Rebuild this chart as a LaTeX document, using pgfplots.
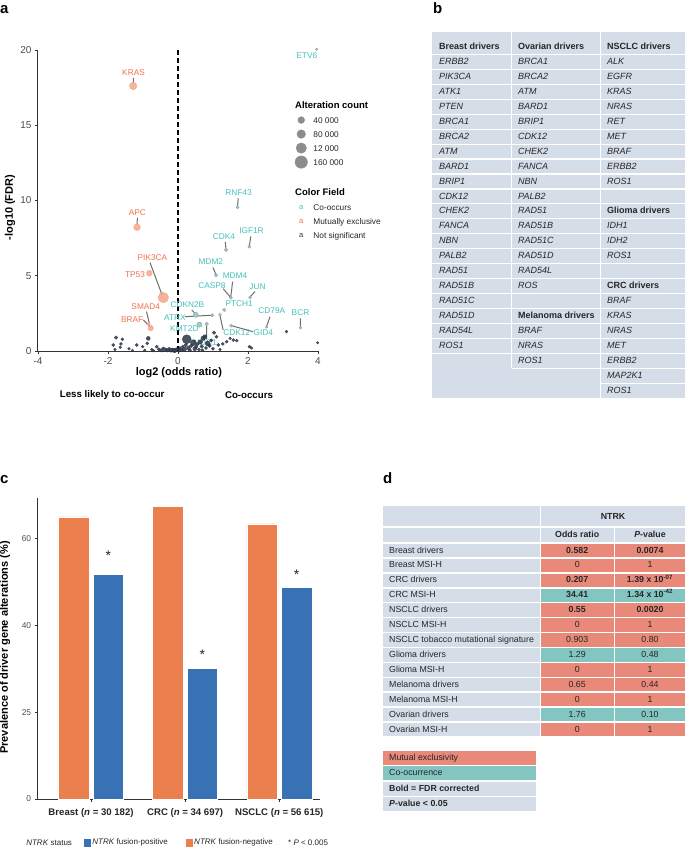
\documentclass[border=0pt]{standalone}
\usepackage{pgfplots}
\pgfplotsset{compat=1.18}
\usepackage{fontspec}
\setmainfont{Liberation Sans}
\newcommand{\setfs}[1]{\fontsize{#1}{#1}\selectfont}
\definecolor{tealtxt}{HTML}{45BFBA}
\definecolor{orgtxt}{HTML}{F26E4C}
\definecolor{orgpt}{HTML}{F5A68A}
\definecolor{tealpt}{HTML}{8ED4CF}
\definecolor{darkpt}{HTML}{2B3446}
\definecolor{tblbg}{HTML}{D5DEE8}
\definecolor{salmon}{HTML}{E8897A}
\definecolor{tealc}{HTML}{82C5C1}
\definecolor{barorg}{HTML}{EB7F4E}
\definecolor{barblue}{HTML}{3872B5}
\definecolor{axgray}{HTML}{333333}
\definecolor{tickgray}{HTML}{4D4D4D}
\definecolor{linegray}{HTML}{6E6E6E}
\definecolor{legcirc}{HTML}{8A8C8E}
\definecolor{tbltxt}{HTML}{262626}

\newcommand{\drow}[5]{%
  \pgfmathsetmacro{\cy}{550.35+14.94*#1}%
  \fill[tblbg] (383,\cy-6.65) rectangle (539.5,\cy+6.65);
  \fill[#5] (541,\cy-6.65) rectangle (613.5,\cy+6.65);
  \fill[#5] (615,\cy-6.65) rectangle (685,\cy+6.65);
  \node[anchor=mid west, inner sep=0pt, font=\setfs{8.8}, text=tbltxt] at (389,\cy) {#2};
  \node[anchor=mid, inner sep=0pt, font=\setfs{8.8}, text=tbltxt] at (577.2,\cy) {#3};
  \node[anchor=mid, inner sep=0pt, font=\setfs{8.8}, text=tbltxt] at (650,\cy) {#4};
}

\begin{document}
\begin{tikzpicture}
\useasboundingbox (0pt,0pt) rectangle (685pt,-847pt);

% ================= panel letters and tables =================
\begin{scope}[x=1pt,y=-1pt]
\node[anchor=base west, inner sep=0pt, font=\bfseries\setfs{15}] at (0,13) {a};
\node[anchor=base west, inner sep=0pt, font=\bfseries\setfs{15}] at (433,13) {b};
\node[anchor=base west, inner sep=0pt, font=\bfseries\setfs{15}] at (0,483) {c};
\node[anchor=base west, inner sep=0pt, font=\bfseries\setfs{15}] at (383,483) {d};

% ---------- panel b ----------
\fill[tblbg] (432,32) rectangle (685,398);
\foreach \k in {1,...,21} \draw[white,line width=1.2pt] (432,{54.47+14.94*(\k-1)}) -- (511.5,{54.47+14.94*(\k-1)});
\foreach \k in {1,...,22} \draw[white,line width=1.2pt] (511.5,{54.47+14.94*(\k-1)}) -- (600.8,{54.47+14.94*(\k-1)});
\foreach \k in {1,...,23} \draw[white,line width=1.2pt] (600.8,{54.47+14.94*(\k-1)}) -- (685,{54.47+14.94*(\k-1)});
\draw[white,line width=1.2pt] (511.5,32) -- (511.5,368.2);
\draw[white,line width=1.2pt] (600.8,32) -- (600.8,398);
\tikzset{hdr/.style={anchor=mid west, inner sep=0pt, font=\bfseries\setfs{9}, text=tbltxt},
         gene/.style={anchor=mid west, inner sep=0pt, font=\itshape\setfs{9}, text=tbltxt}}
\node[hdr] at (439,47) {Breast drivers};
\node[hdr] at (518,47) {Ovarian drivers};
\node[hdr] at (607,47) {NSCLC drivers};
\node[hdr] at (518,{47+14.94*18}) {Melanoma drivers};
\node[hdr] at (607,{47+14.94*11}) {Glioma drivers};
\node[hdr] at (607,{47+14.94*16}) {CRC drivers};
\foreach \g [count=\i from 2] in {ERBB2,PIK3CA,ATK1,PTEN,BRCA1,BRCA2,ATM,BARD1,BRIP1,CDK12,CHEK2,FANCA,NBN,PALB2,RAD51,RAD51B,RAD51C,RAD51D,RAD54L,ROS1}
  \node[gene] at (439,{47+14.94*(\i-1)}) {\g};
\foreach \g [count=\i from 2] in {BRCA1,BRCA2,ATM,BARD1,BRIP1,CDK12,CHEK2,FANCA,NBN,PALB2,RAD51,RAD51B,RAD51C,RAD51D,RAD54L,ROS}
  \node[gene] at (518,{47+14.94*(\i-1)}) {\g};
\foreach \g [count=\i from 20] in {BRAF,NRAS,ROS1}
  \node[gene] at (518,{47+14.94*(\i-1)}) {\g};
\foreach \g [count=\i from 2] in {ALK,EGFR,KRAS,NRAS,RET,MET,BRAF,ERBB2,ROS1}
  \node[gene] at (607,{47+14.94*(\i-1)}) {\g};
\foreach \g [count=\i from 13] in {IDH1,IDH2,ROS1}
  \node[gene] at (607,{47+14.94*(\i-1)}) {\g};
\foreach \g [count=\i from 18] in {BRAF,KRAS,NRAS,MET,ERBB2,MAP2K1,ROS1}
  \node[gene] at (607,{47+14.94*(\i-1)}) {\g};

% ---------- panel d ----------
\fill[tblbg] (383,506) rectangle (539.5,526.3);
\fill[tblbg] (541,506) rectangle (685,526.3);
\fill[tblbg] (383,527.8) rectangle (539.5,542.2);
\fill[tblbg] (541,527.8) rectangle (613.5,542.2);
\fill[tblbg] (615,527.8) rectangle (685,542.2);
\node[anchor=mid, inner sep=0pt, font=\bfseries\setfs{8.8}, text=tbltxt] at (613,517) {NTRK};
\node[anchor=mid, inner sep=0pt, font=\bfseries\setfs{8.8}, text=tbltxt] at (577.2,535) {Odds ratio};
\node[anchor=mid, inner sep=0pt, font=\bfseries\setfs{8.8}, text=tbltxt] at (650,535) {\textit{P}-value};
\drow{0}{Breast drivers}{\textbf{0.582}}{\textbf{0.0074}}{salmon}
\drow{1}{Breast MSI-H}{0}{1}{salmon}
\drow{2}{CRC drivers}{\textbf{0.207}}{\textbf{1.39 x 10\textsuperscript{-07}}}{salmon}
\drow{3}{CRC MSI-H}{\textbf{34.41}}{\textbf{1.34 x 10\textsuperscript{-42}}}{tealc}
\drow{4}{NSCLC drivers}{\textbf{0.55}}{\textbf{0.0020}}{salmon}
\drow{5}{NSCLC MSI-H}{0}{1}{salmon}
\drow{6}{NSCLC tobacco mutational signature}{0.903}{0.80}{salmon}
\drow{7}{Glioma drivers}{1.29}{0.48}{tealc}
\drow{8}{Glioma MSI-H}{0}{1}{salmon}
\drow{9}{Melanoma drivers}{0.65}{0.44}{salmon}
\drow{10}{Melanoma MSI-H}{0}{1}{salmon}
\drow{11}{Ovarian drivers}{1.76}{0.10}{tealc}
\drow{12}{Ovarian MSI-H}{0}{1}{salmon}
\fill[salmon] (383,750.5) rectangle (536,764.5);
\fill[tealc] (383,766) rectangle (536,780);
\fill[tblbg] (383,781.5) rectangle (536,795.5);
\fill[tblbg] (383,797) rectangle (536,811);
\node[anchor=mid west, inner sep=0pt, font=\setfs{8.8}, text=tbltxt] at (389,757.5) {Mutual exclusivity};
\node[anchor=mid west, inner sep=0pt, font=\setfs{8.8}, text=tbltxt] at (389,773) {Co-ocurrence};
\node[anchor=mid west, inner sep=0pt, font=\bfseries\setfs{8.8}, text=tbltxt] at (389,788.5) {Bold = FDR corrected};
\node[anchor=mid west, inner sep=0pt, font=\bfseries\setfs{8.8}, text=tbltxt] at (389,804) {\textit{P}-value < 0.05};
\end{scope}

% ================= panel a =================
\begin{axis}[
  at={(38pt,-351pt)}, anchor=south west,
  scale only axis, width=280pt, height=301pt,
  xmin=-4, xmax=4, ymin=0, ymax=20,
  axis lines*=left, axis line style={axgray, line width=1pt},
  xtick={-4,-2,0,2,4}, ytick={0,5,10,15,20},
  tick align=outside, major tick length=3pt, tick style={axgray, line width=0.8pt},
  ticklabel style={font=\setfs{10}, text=tickgray},
  /pgf/number format/assume math mode=true,
  xlabel={log2 (odds ratio)}, ylabel={-log10 (FDR)},
  xlabel style={font=\bfseries\setfs{11}, at={(axis description cs:0.503,-0.073)}, anchor=center},
  ylabel style={font=\bfseries\setfs{11}, at={(axis description cs:-0.1,0.477)}, anchor=center},
  clip=false,
  legend cell align=left,
  legend style={at={(axis description cs:0.918,0.837)}, anchor=north west, draw=none, fill=none,
    inner sep=0pt, outer sep=0pt, row sep=0pt, font=\setfs{8.3}, text=tbltxt,
    nodes={inner sep=0pt, text height=10pt, text depth=4pt}},
]
\addlegendimage{legend image code/.code={\node[overlay,anchor=mid west,inner sep=0pt,font=\bfseries\setfs{9.5},text=black] at (0pt,0pt) {Alteration count}; \path (0pt,0pt) (18pt,0pt);}}
\addlegendentry{}
\addlegendimage{legend image code/.code={\fill[legcirc,overlay] (6pt,0pt) circle (3.4pt); \path (0pt,0pt) (18pt,0pt);}}
\addlegendentry{40 000}
\addlegendimage{legend image code/.code={\fill[legcirc,overlay] (6pt,0pt) circle (4.3pt); \path (0pt,0pt) (18pt,0pt);}}
\addlegendentry{80 000}
\addlegendimage{legend image code/.code={\fill[legcirc,overlay] (6pt,0pt) circle (5.2pt); \path (0pt,0pt) (18pt,0pt);}}
\addlegendentry{12 000}
\addlegendimage{legend image code/.code={\fill[legcirc,overlay] (6pt,0pt) circle (6.2pt); \path (0pt,0pt) (18pt,0pt);}}
\addlegendentry{160 000}
\addlegendimage{legend image code/.code={\path (0pt,0pt) (18pt,0pt);}}
\addlegendentry[text height=13pt]{}
\addlegendimage{legend image code/.code={\node[overlay,anchor=mid west,inner sep=0pt,font=\bfseries\setfs{9.5},text=black] at (0pt,0pt) {Color Field}; \path (0pt,0pt) (18pt,0pt);}}
\addlegendentry{}
\addlegendimage{legend image code/.code={\node[overlay,anchor=mid,inner sep=0pt,font=\setfs{7.5},text=tealtxt] at (6pt,0pt) {a}; \path (0pt,0pt) (18pt,0pt);}}
\addlegendentry{Co-occurs}
\addlegendimage{legend image code/.code={\node[overlay,anchor=mid,inner sep=0pt,font=\setfs{7.5},text=orgtxt] at (6pt,0pt) {a}; \path (0pt,0pt) (18pt,0pt);}}
\addlegendentry{Mutually exclusive}
\addlegendimage{legend image code/.code={\node[overlay,anchor=mid,inner sep=0pt,font=\setfs{7.5},text=darkpt] at (6pt,0pt) {a}; \path (0pt,0pt) (18pt,0pt);}}
\addlegendentry{Not significant}

% dashed zero line
\addplot[black, line width=1.2pt, dash pattern=on 5pt off 3pt, forget plot] coordinates {(0,0) (0,20)};

% connector lines
\addplot[linegray, line width=1pt, unbounded coords=jump, forget plot] coordinates {
(-1.27,18.15) (-1.28,17.8) (nan,nan)
(-1.16,8.85) (-1.17,8.4) (nan,nan)
(-0.80,5.88) (-0.45,3.7) (nan,nan)
(-0.90,2.62) (-0.82,1.85) (nan,nan)
(-0.99,2.06) (-0.78,1.57) (nan,nan)
(1.72,10.15) (1.70,9.6) (nan,nan)
(2.08,7.62) (2.04,7.0) (nan,nan)
(1.35,7.25) (1.37,6.8) (nan,nan)
(1.00,5.55) (1.08,5.1) (nan,nan)
(1.56,4.61) (1.51,3.62) (nan,nan)
(1.29,4.14) (1.49,3.6) (nan,nan)
(2.20,3.95) (2.06,3.6) (nan,nan)
(0.39,2.73) (0.51,2.45) (nan,nan)
(0.20,2.28) (0.98,2.38) (nan,nan)
(0.82,1.75) (0.82,0.75) (nan,nan)
(1.29,1.40) (1.20,2.35) (nan,nan)
(2.15,1.28) (1.53,1.68) (nan,nan)
(2.63,2.28) (2.53,1.62) (nan,nan)
(3.50,2.17) (3.50,1.58)
};

% gene labels
\foreach \gx/\gy/\gt in {-1.27/18.52/KRAS,-1.16/9.2/APC,-0.73/6.21/PIK3CA,-1.23/5.1/TP53,-0.92/2.95/SMAD4,-1.31/2.06/BRAF}
  {\edef\temp{\noexpand\node[anchor=center,inner sep=0pt,font=\noexpand\setfs{8.3},text=orgtxt] at (axis cs:\gx,\gy) {\gt};}\temp}
\foreach \gx/\gy/\gt in {3.68/19.63/ETV6,1.73/10.49/RNF43,2.1/7.98/IGF1R,1.31/7.6/CDK4,0.94/5.92/MDM2,1.63/4.99/MDM4,0.97/4.35/CASP8,2.27/4.28/JUN,1.75/3.13/PTCH1,0.27/3.08/CDKN2B,-0.09/2.24/ATRX,0.18/1.46/KMT2D,1.68/1.24/CDK12,2.44/1.24/GID4,2.68/2.66/CD79A,3.5/2.55/BCR,0.77/0.55/MDC1}
  {\edef\temp{\noexpand\node[anchor=center,inner sep=0pt,font=\noexpand\setfs{8.3},text=tealtxt] at (axis cs:\gx,\gy) {\gt};}\temp}

% not significant points
\addplot[scatter, only marks, mark=*, opacity=0.85, forget plot,
  scatter/use mapped color={draw=darkpt, fill=darkpt},
  visualization depends on={\thisrow{r}\as\rad},
  scatter/@pre marker code/.append style={/tikz/mark size=\rad}]
  table[x=x,y=y] {
x y r
-1.85 0.40 1.6
-1.77 0.89 1.8
-1.63 0.47 1.5
-1.59 0.78 1.5
-1.80 0.10 1.3
-1.40 0.15 1.3
-1.18 0.40 1.6
-1.01 0.29 1.4
-0.88 0.51 1.5
-0.85 0.84 2.0
-0.95 0.05 1.3
-0.75 0.10 1.4
-0.61 0.29 1.5
-0.55 0.12 1.6
-0.48 0.05 1.8
-0.42 0.18 1.5
-0.36 0.08 2.0
-0.30 0.04 1.8
-0.25 0.15 1.6
-0.20 0.05 2.0
-0.15 0.10 1.7
-0.10 0.03 2.2
-0.05 0.12 1.6
0.02 0.05 2.0
0.06 0.20 1.6
0.10 0.08 1.8
0.14 0.30 1.5
0.18 0.12 2.2
0.22 0.40 1.8
0.25 0.78 4.5
0.30 0.20 2.0
0.34 0.05 1.7
0.38 0.35 1.9
0.44 0.55 3.0
0.48 0.15 2.0
0.52 0.28 1.8
0.56 0.45 1.6
0.60 0.10 1.7
0.64 0.60 2.2
0.68 0.30 1.8
0.72 0.85 2.3
0.77 0.95 2.0
0.80 0.20 1.6
0.85 0.50 2.5
0.90 0.35 1.8
0.95 0.70 1.7
1.03 1.22 1.8
1.00 0.15 1.5
1.10 0.95 1.6
1.15 0.40 1.5
1.28 0.47 1.5
1.39 0.62 1.5
1.58 0.73 1.5
1.68 0.69 1.5
1.49 0.84 1.4
2.04 0.29 1.5
2.10 0.20 1.3
3.10 1.29 1.4
3.99 0.55 1.3
-1.65 0.25 1.3
-1.30 0.05 1.2
-0.70 0.02 1.3
0.70 0.05 1.5
1.20 0.10 1.4
};

% co-occurs points
\addplot[scatter, only marks, mark=*, forget plot,
  scatter/use mapped color={draw=gray!80, fill=tealpt},
  visualization depends on={\thisrow{r}\as\rad},
  scatter/@pre marker code/.append style={/tikz/mark size=\rad}]
  table[x=x,y=y] {
x y r
3.96 20.05 1.3
1.70 9.55 1.6
2.04 6.94 1.6
1.37 6.72 1.7
1.09 5.03 1.7
1.51 3.55 1.6
2.06 3.55 1.4
1.32 2.73 1.6
0.51 2.40 2.5
0.98 2.38 1.6
1.20 2.40 1.5
0.61 1.75 2.6
0.82 1.80 1.8
1.52 1.68 1.5
2.53 1.60 1.3
3.50 1.55 1.3
};

% mutually exclusive points
\addplot[scatter, only marks, mark=*, opacity=0.85, forget plot,
  scatter/use mapped color={draw=orgpt, fill=orgpt},
  visualization depends on={\thisrow{r}\as\rad},
  scatter/@pre marker code/.append style={/tikz/mark size=\rad}]
  table[x=x,y=y] {
x y r
-1.28 17.61 3.8
-1.17 8.22 3.4
-0.82 5.17 3.0
-0.42 3.55 5.3
-0.84 1.78 1.8
-0.78 1.52 2.8
};

\node[anchor=center, font=\bfseries\setfs{9.7}] at (axis description cs:0.265,-0.146) {Less likely to co-occur};
\node[anchor=center, font=\bfseries\setfs{9.7}] at (axis description cs:0.7536,-0.146) {Co-occurs};
\end{axis}

% ================= panel c =================
\begin{axis}[
  at={(37.7pt,-799pt)}, anchor=south west,
  scale only axis, width=282.3pt, height=300.7pt,
  xmin=-0.567, xmax=2.433, ymin=0, ymax=69.3,
  ybar, bar width=30.5pt,
  axis lines*=left, axis line style={axgray, line width=1pt},
  xtick={0,1,2},
  xticklabels={{Breast (\textit{n} = 30 182)},{CRC (\textit{n} = 34 697)},{NSCLC (\textit{n} = 56 615)}},
  ytick={0,20,40,60}, yticklabels={0,25,40,60},
  tick align=outside, major tick length=3pt, tick style={axgray, line width=0.8pt},
  xticklabel style={font=\bfseries\setfs{9.6}, text=tbltxt, yshift=-2.5pt},
  yticklabel style={font=\setfs{8.4}, text=tickgray},
  ylabel={Prevalence of driver gene alterations (\%)},
  ylabel style={font=\bfseries\setfs{11}, at={(axis description cs:-0.116,0.504)}, anchor=center},
  clip=false,
  legend columns=2,
  legend cell align=left,
  legend style={at={(axis description cs:0.164,-0.1453)}, anchor=west, draw=none, fill=none,
    inner sep=0pt, outer sep=0pt, font=\setfs{8}, text=tbltxt,
    nodes={inner sep=0pt, text height=6pt, text depth=2pt},
    /tikz/every even column/.append style={column sep=18pt}},
]
\addlegendimage{legend image code/.code={\fill[barblue] (0pt,-3.2pt) rectangle (6.5pt,3.2pt); \path (0pt,0pt) (8pt,0pt);}}
\addlegendentry{\textit{NTRK} fusion-positive}
\addlegendimage{legend image code/.code={\fill[barorg] (0pt,-3.2pt) rectangle (6.5pt,3.2pt); \path (0pt,0pt) (8pt,0pt);}}
\addlegendentry{\textit{NTRK} fusion-negative}
\addplot[fill=barorg, draw=white, line width=0.5pt, bar shift=-17.25pt, forget plot] coordinates {(0,65.0) (1,67.5) (2,63.4)};
\addplot[fill=barblue, draw=white, line width=0.5pt, bar shift=17.25pt, forget plot] coordinates {(0,51.7) (1,30.1) (2,48.8)};
\node[anchor=center, inner sep=0pt, font=\setfs{14}, text=tbltxt] at (axis cs:0.183,56.1) {*};
\node[anchor=center, inner sep=0pt, font=\setfs{14}, text=tbltxt] at (axis cs:1.183,33.3) {*};
\node[anchor=center, inner sep=0pt, font=\setfs{14}, text=tbltxt] at (axis cs:2.183,51.7) {*};
\node[anchor=mid west, inner sep=0pt, font=\setfs{8}, text=tbltxt] at (axis description cs:-0.041,-0.1453) {\textit{NTRK} status};
\node[anchor=mid west, inner sep=0pt, font=\setfs{8}, text=tbltxt] at (axis description cs:0.8866,-0.1453) {* \textit{P} < 0.005};
\end{axis}
\end{tikzpicture}
\end{document}
